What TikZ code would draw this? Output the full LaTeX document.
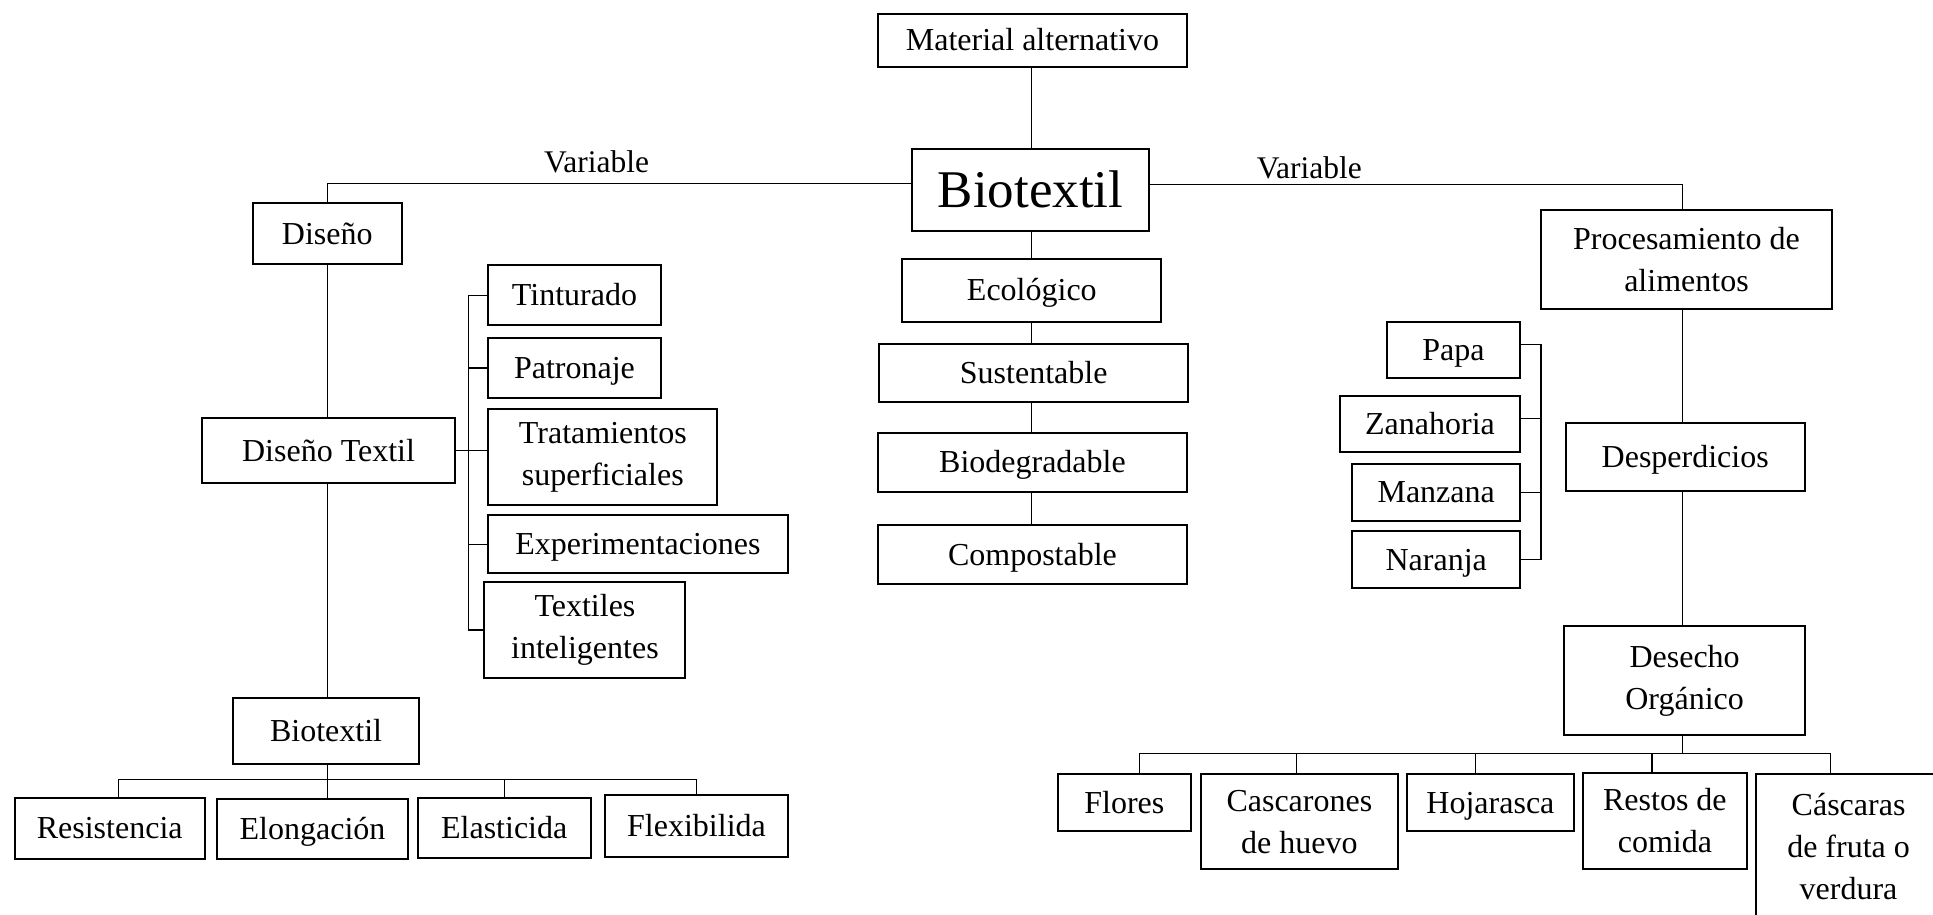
\documentclass[tikz,border=0pt]{standalone}
\usepackage{fontspec}
\setmainfont{Liberation Serif}
\newcommand\bx[7][one]{%
  \node[box,#1,minimum width={(#5-#3)*1.2328pt},minimum height={(#6-#4)*1.2328pt}]
    (#2) at ({(#3+#5)/2},{(#4+#6)/2}) {#7};}
\begin{document}
\begin{tikzpicture}[x=1.2328pt,y=-1.2328pt,
  box/.style={draw, line width=2pt, inner sep=0pt, align=center, font=\fontsize{32}{42}\selectfont},
  one/.style={text height=25pt, text depth=4pt},
  multi/.style={},
  big/.style={font=\fontsize{53}{60}\selectfont, text height=40pt, text depth=5pt},
  conn/.style={line width=1.1pt},
  lbl/.style={font=\fontsize{31.5}{38}\selectfont, inner sep=0pt, anchor=base}]
\useasboundingbox (0,0) rectangle (1568,742);
\clip (0,0) rectangle (1568,742);
\fill[white] (0,0) rectangle (1568,742);

% centre column
\bx{mat}{712}{11}{963}{54}{Material alternativo}
\bx[big]{bio}{740}{121}{932}{187}{Biotextil}
\bx{eco}{732}{210}{942}{261}{Ecológico}
\bx{sus}{713}{279}{964}{326}{Sustentable}
\bx{biod}{712}{351}{963}{399}{Biodegradable}
\bx{comp}{712}{426}{963}{474}{Compostable}

% left branch
\bx{dis}{205}{165}{326}{214}{Diseño}
\bx{dt}{164}{339}{369}{392}{Diseño Textil}
\bx{bt}{189}{566}{340}{620}{Biotextil}
\bx{res}{12}{647}{166}{697}{Resistencia}
\bx{elo}{176}{648}{331}{697}{Elongación}
\bx{ela}{339}{647}{479}{696}{Elasticida}
\bx{fle}{491}{645}{639}{695}{Flexibilida}
\bx{tin}{396}{215}{536}{264}{Tinturado}
\bx{pat}{396}{274}{536}{323}{Patronaje}
\bx[multi]{tra}{396}{332}{582}{410}{Tratamientos\\superficiales}
\bx{exp}{396}{418}{639}{465}{Experimentaciones}
\bx[multi]{tex}{393}{472}{556}{550}{Textiles\\inteligentes}

% right branch
\bx[multi]{pro}{1250}{170}{1486}{251}{Procesamiento de\\alimentos}
\bx{des}{1270}{343}{1464}{398}{Desperdicios}
\bx[multi]{dor}{1269}{508}{1464}{596}{Desecho\\Orgánico}
\bx{papa}{1125}{261}{1233}{307}{Papa}
\bx{zan}{1087}{321}{1233}{367}{Zanahoria}
\bx{man}{1097}{376}{1233}{423}{Manzana}
\bx{nar}{1097}{431}{1233}{477}{Naranja}
\bx{flo}{858}{628}{966}{674}{Flores}
\bx[multi]{cas}{974}{628}{1134}{705}{Cascarones\\de huevo}
\bx{hoj}{1141}{628}{1277}{674}{Hojarasca}
\bx[multi]{rest}{1284}{627}{1417}{705}{Restos de\\comida}
\bx[multi]{casc}{1424}{628}{1575}{745}{Cáscaras\\de fruta o\\verdura}

% labels
\node[lbl] (v1) at (484,140) {Variable};
\node[lbl] (v2) at (1062,145) {Variable};

% helper coordinates
\coordinate (vl) at (0,149);
\coordinate (vr) at (0,150);
\coordinate (bx) at (380,0);
\coordinate (fx) at (1250,0);
\coordinate (lbus) at (0,632);
\coordinate (rbus) at (0,611);
\coordinate (l1) at (96,0);
\coordinate (l0) at (266,0);
\coordinate (c0) at (837,0);
\coordinate (p0) at (1365,0);
\coordinate (r1) at (924,0);
\coordinate (r2) at (1052,0);
\coordinate (r3) at (1197,0);
\coordinate (r4) at (1340,0);
\coordinate (r5) at (1485,0);

% centre connectors
\draw[conn] (c0 |- mat.south) -- (c0 |- bio.north);
\draw[conn] (c0 |- bio.south) -- (c0 |- eco.north);
\draw[conn] (c0 |- eco.south) -- (c0 |- sus.north);
\draw[conn] (c0 |- sus.south) -- (c0 |- biod.north);
\draw[conn] (c0 |- biod.south) -- (c0 |- comp.north);

% left connectors
\draw[conn] (bio.west |- vl) -- (l0 |- vl) -- (l0 |- dis.north);
\draw[conn] (l0 |- dis.south) -- (l0 |- dt.north);
\draw[conn] (l0 |- dt.south) -- (l0 |- bt.north);
\draw[conn] (l0 |- bt.south) -- (l0 |- elo.north);
\draw[conn] (l1 |- res.north) -- (l1 |- lbus) -| (fle.north);
\draw[conn] (ela.north) -- (ela.north |- lbus);
\draw[conn] (dt.east) -- (dt.east -| tra.west);
\draw[conn] (tin.west) -- (tin.west -| bx) -- (tex.west -| bx) -- (tex.west);
\draw[conn] (pat.west) -- (pat.west -| bx);
\draw[conn] (exp.west) -- (exp.west -| bx);

% right connectors
\draw[conn] (bio.east |- vr) -- (p0 |- vr) -- (p0 |- pro.north);
\draw[conn] (p0 |- pro.south) -- (p0 |- des.north);
\draw[conn] (p0 |- des.south) -- (p0 |- dor.north);
\draw[conn] (p0 |- dor.south) -- (p0 |- rbus);
\draw[conn] (r1 |- rbus) -- (r5 |- rbus);
\draw[conn] (r1 |- rbus) -- (r1 |- flo.north);
\draw[conn] (r2 |- rbus) -- (r2 |- cas.north);
\draw[conn] (r3 |- rbus) -- (r3 |- hoj.north);
\draw[conn] (r4 |- rbus) -- (r4 |- rest.north);
\draw[conn] (r5 |- rbus) -- (r5 |- casc.north);
\draw[conn] ([yshift=6pt]papa.east) -- ([yshift=6pt]papa.east -| fx) -- (nar.east -| fx) -- (nar.east);
\draw[conn] ([yshift=6pt]zan.east) -- ([yshift=6pt]zan.east -| fx);
\draw[conn] (man.east) -- (man.east -| fx);
\end{tikzpicture}
\end{document}
